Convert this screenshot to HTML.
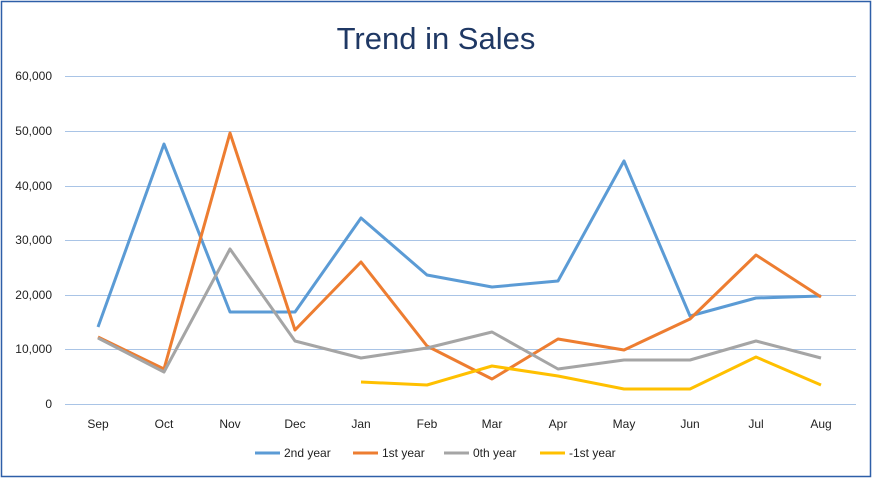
<!DOCTYPE html>
<html><head><meta charset="utf-8"><style>
body{margin:0;background:#fff;}
svg{display:block;font-family:"Liberation Sans",Calibri,sans-serif;}
</style></head><body>
<svg width="873" height="480" viewBox="0 0 873 480">
<rect x="1.5" y="1.5" width="869" height="475" fill="#fff" stroke="#2e5fa8" stroke-width="1.5"/>
<text x="436" y="49" text-anchor="middle" font-size="31" fill="#1f3864">Trend in Sales</text>
<g stroke="#a9c4e6" stroke-width="1">
<line x1="65" x2="856" y1="76.5" y2="76.5"/>
<line x1="65" x2="856" y1="131.5" y2="131.5"/>
<line x1="65" x2="856" y1="186.5" y2="186.5"/>
<line x1="65" x2="856" y1="240.5" y2="240.5"/>
<line x1="65" x2="856" y1="295.5" y2="295.5"/>
<line x1="65" x2="856" y1="349.5" y2="349.5"/>
<line x1="65" x2="856" y1="404.5" y2="404.5"/>
</g>
<g font-size="12" fill="#1f1f1f" text-anchor="end">
<text x="52" y="80">60,000</text><text x="52" y="135">50,000</text><text x="52" y="190">40,000</text>
<text x="52" y="244">30,000</text><text x="52" y="299">20,000</text><text x="52" y="353">10,000</text><text x="52" y="408">0</text>
</g>
<g font-size="12" fill="#1f1f1f" text-anchor="middle">
<text x="98" y="428">Sep</text><text x="164" y="428">Oct</text><text x="230" y="428">Nov</text><text x="295" y="428">Dec</text>
<text x="361" y="428">Jan</text><text x="427" y="428">Feb</text><text x="492" y="428">Mar</text><text x="558" y="428">Apr</text>
<text x="624" y="428">May</text><text x="690" y="428">Jun</text><text x="756" y="428">Jul</text><text x="821" y="428">Aug</text>
</g>
<g fill="none" stroke-width="3" stroke-linejoin="round">
<polyline stroke="#5b9bd5" points="98,327 164,144 230,312 295,312 361,218 427,275 492,287 558,281 624,161 690,316 756,298 821,296"/>
<polyline stroke="#ed7d31" points="98,337 164,369 230,133 295,330 361,262 427,346 492,379 558,339 624,350 690,319 756,255 821,297"/>
<polyline stroke="#a5a5a5" points="98,338 164,372 230,249 295,341 361,358 427,348 492,332 558,369 624,360 690,360 756,341 821,358"/>
<polyline stroke="#ffc000" points="361,382 427,385 492,366 558,376 624,389 690,389 756,357 821,385"/>
</g>
<g font-size="12" fill="#1f1f1f">
<line x1="255" x2="280" y1="453" y2="453" stroke="#5b9bd5" stroke-width="3"/><text x="284" y="457">2nd year</text>
<line x1="353" x2="378" y1="453" y2="453" stroke="#ed7d31" stroke-width="3"/><text x="382" y="457">1st year</text>
<line x1="444" x2="469" y1="453" y2="453" stroke="#a5a5a5" stroke-width="3"/><text x="473" y="457">0th year</text>
<line x1="540" x2="565" y1="453" y2="453" stroke="#ffc000" stroke-width="3"/><text x="569" y="457">-1st year</text>
</g>
</svg>
</body></html>
